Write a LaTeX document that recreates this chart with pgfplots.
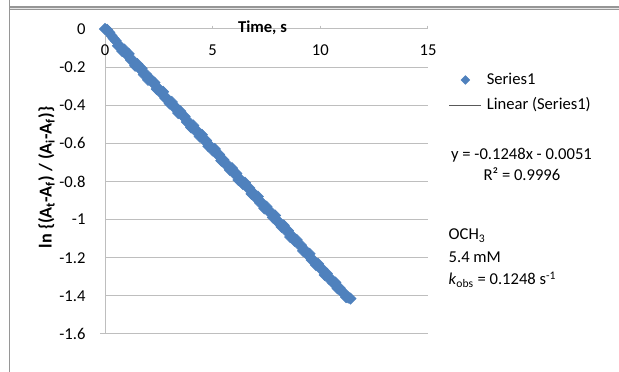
\documentclass[border=0pt]{standalone}
\usepackage{fontspec}
\setmainfont{Carlito}
\usepackage{pgfplots}
\pgfplotsset{compat=1.18}

\definecolor{seriesblue}{RGB}{79,129,189}
\definecolor{gridgray}{RGB}{190,190,190}
\definecolor{framegray}{RGB}{150,150,150}
\newcommand{\chartfont}{\fontsize{12.45}{15}\selectfont}

% legend symbols: a centred diamond, and a plain stroke
\pgfplotsset{
  diamond legend/.style={legend image code/.code={\path[draw=none] (0pt,0pt) -- (24pt,0pt);
    \draw[##1, only marks, mark size=2.3pt] plot coordinates {(12pt,0pt)};}},
  stroke legend/.style={legend image code/.code={\draw[##1, black!65] (0pt,0pt) -- (24pt,0pt);}},
}

% ln-ratio of absorbances against time, with its least-squares line
\pgfplotstableread{
t     y
0.0   0.000
0.1  -0.004
0.2  -0.018
0.3  -0.035
0.4  -0.050
0.5  -0.062
0.6  -0.088
0.7  -0.090
0.8  -0.116
0.9  -0.108
1.0  -0.134
1.1  -0.130
1.2  -0.162
1.3  -0.165
1.4  -0.193
1.5  -0.184
1.6  -0.208
1.7  -0.207
1.8  -0.239
1.9  -0.237
2.0  -0.267
2.1  -0.260
2.2  -0.281
2.3  -0.281
2.4  -0.315
2.5  -0.313
2.6  -0.336
2.7  -0.329
2.8  -0.363
2.9  -0.366
3.0  -0.391
3.1  -0.383
3.2  -0.410
3.3  -0.411
3.4  -0.441
3.5  -0.432
3.6  -0.456
3.7  -0.459
3.8  -0.488
3.9  -0.489
4.0  -0.517
4.1  -0.506
4.2  -0.535
4.3  -0.537
4.4  -0.564
4.5  -0.555
4.6  -0.583
4.7  -0.585
4.8  -0.615
4.9  -0.615
5.0  -0.637
5.1  -0.629
5.2  -0.657
5.3  -0.658
5.4  -0.691
5.5  -0.686
5.6  -0.711
5.7  -0.713
5.8  -0.739
5.9  -0.730
6.0  -0.759
6.1  -0.758
6.2  -0.792
6.3  -0.790
6.4  -0.813
6.5  -0.806
6.6  -0.831
6.7  -0.834
6.8  -0.865
6.9  -0.861
7.0  -0.885
7.1  -0.879
7.2  -0.912
7.3  -0.913
7.4  -0.941
7.5  -0.932
7.6  -0.958
7.7  -0.960
7.8  -0.989
7.9  -0.978
8.0  -1.011
8.1  -1.014
8.2  -1.038
8.3  -1.030
8.4  -1.058
8.5  -1.058
8.6  -1.091
8.7  -1.087
8.8  -1.111
8.9  -1.106
9.0  -1.131
9.1  -1.134
9.2  -1.164
9.3  -1.161
9.4  -1.184
9.5  -1.179
9.6  -1.212
9.7  -1.215
9.8  -1.238
9.9  -1.232
10.0 -1.257
10.1 -1.260
10.2 -1.290
10.3 -1.283
10.4 -1.310
10.5 -1.312
10.6 -1.333
10.7 -1.330
10.8 -1.361
10.9 -1.359
11.0 -1.380
11.1 -1.385
11.2 -1.407
11.3 -1.409
11.4 -1.414
}\kinetics

\begin{document}
\begin{tikzpicture}[font=\chartfont]
\path[use as bounding box] (0pt,0pt) rectangle (464.25pt,279pt);

\begin{axis}[
  at={(78.75pt,257.25pt)}, anchor=north west,
  scale only axis, width=242.25pt, height=228.75pt,
  xmin=0, xmax=15, ymin=-1.6, ymax=0,
  xtick={0,5,10,15},
  ytick={-1.6,-1.4,-1.2,-1,-0.8,-0.6,-0.4,-0.2,0},
  axis x line=top, axis y line=left,
  axis line style={gridgray, line width=0.75pt, -},
  x axis line style={-}, y axis line style={-},
  ymajorgrids, grid style={gridgray, line width=0.75pt},
  tick align=outside,
  xtick style={gridgray, line width=0.75pt},
  major tick length=2.5pt,
  ytick style={draw=none},
  tick label style={font=\chartfont},
  /pgf/number format/assume math mode=true,
  xticklabel style={anchor=north, yshift=-10.75pt},
  yticklabel style={anchor=east, xshift=-8.6pt},
  legend style={at={(axis description cs:1.065,0.858)}, anchor=north west,
    draw=none, fill=none, inner sep=0pt, outer sep=0pt, row sep=7.25pt,
    nodes={inner sep=0pt, text height=9pt, text depth=2.5pt},
    font=\chartfont},
  legend cell align=left,
  /tikz/every odd column/.append style={column sep=3.75pt},
  clip=false,
]
\addplot[only marks, mark=square*, mark size=3pt,
  mark options={rotate=45, fill=seriesblue, draw=seriesblue}, diamond legend]
  table[x=t, y=y] {\kinetics};
\addplot[black!90, line width=0.6pt, no marks, stroke legend]
  coordinates {(0,-0.0051) (11.4,-1.4278)};
\legend{Series1, Linear (Series1)}
\draw[gridgray, line width=0.75pt] (axis cs:0,-1.6) -- ++(-3.75pt,0pt);
\end{axis}

% everything else is laid out on a pixel grid measured from the top-left corner
\begin{scope}[x=0.75pt, y=-0.75pt, yshift=279pt]
% chart area frame
\fill[framegray] (9,6) rectangle (619,10.5);
\draw[white!75!framegray, line width=0.6pt] (9,8.2) -- (619,8.2);
\draw[framegray, line width=0.9pt] (9.5,0) -- (9.5,372);

% axis titles
\node[anchor=base, font=\chartfont\bfseries] at (262.5,32.5) {Time, s};
\node[rotate=90, font=\fontsize{13.6}{16}\selectfont\bfseries] at (46.5,177.5)
  {ln \{(A\textsubscript{t}-A\textsubscript{f}) / (A\textsubscript{i}-A\textsubscript{f})\}};

% trendline equation
\node[anchor=base] at (521.5,159.3) {y = -0.1248x - 0.0051};
\node[anchor=base] at (522,180.5) {R² = 0.9996};

% run conditions
\node[anchor=base west] at (444,240) {OCH\textsubscript{3}};
\node[anchor=base west] at (444,262.5) {5.4 mM};
\node[anchor=base west] at (444,285)
  {\textit{k}\textsubscript{obs} = 0.1248 s\textsuperscript{-1}};
\end{scope}
\end{tikzpicture}
\end{document}
